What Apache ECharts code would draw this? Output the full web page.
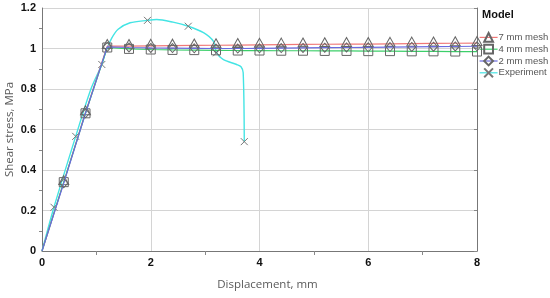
<!DOCTYPE html>
<html>
<head>
<meta charset="utf-8">
<script src="https://cdn.jsdelivr.net/npm/echarts@6/dist/echarts.min.js"></script>
<style>html,body{margin:0;padding:0;background:#fff}#c{width:550px;height:298px}</style>
</head>
<body>
<div id="c"></div>
<script>
const seriesNames = ['7 mm mesh', '4 mm mesh', '2 mm mesh', 'Experiment'];
const modelX = [0, 0.4, 0.8, 1.2, 1.6, 2.0, 2.4, 2.8, 3.2, 3.6, 4.0, 4.4, 4.8, 5.2, 5.6, 6.0, 6.4, 6.8, 7.2, 7.6, 8.0];
const mesh7 = [0, 0.34, 0.685, 1.012, 1.012, 1.013, 1.014, 1.015, 1.016, 1.017, 1.018, 1.019, 1.02, 1.021, 1.022, 1.022, 1.023, 1.024, 1.025, 1.026, 1.027];
const mesh4 = [0, 0.34, 0.68, 1.005, 0.998, 0.995, 0.993, 0.992, 0.991, 0.99, 0.99, 0.989, 0.989, 0.988, 0.988, 0.987, 0.987, 0.986, 0.986, 0.985, 0.985];
const mesh2 = [0, 0.335, 0.68, 1.008, 1.005, 1.003, 1.002, 1.001, 1.0, 1.0, 1.001, 1.002, 1.003, 1.004, 1.005, 1.006, 1.007, 1.008, 1.009, 1.01, 1.011];
const expX = [0, 0.22, 0.62, 0.9, 1.1, 1.18, 1.28, 1.4, 1.62, 1.94, 2.11, 2.41, 2.69, 2.97, 3.15, 3.21, 3.33, 3.58, 3.66, 3.70, 3.72];
const expY = [0, 0.216, 0.566, 0.80, 0.921, 0.99, 1.05, 1.095, 1.127, 1.139, 1.143, 1.130, 1.110, 1.078, 1.036, 0.979, 0.946, 0.921, 0.91, 0.88, 0.54];
const expMarkerX = [0.22, 0.62, 1.1, 1.94, 2.69, 3.21, 3.72];
const xTicks = [0, 2, 4, 6, 8];
const yTicks = [0, 0.2, 0.4, 0.6, 0.8, 1, 1.2];

const lineColors = ['#f07878', '#3ccf6a', '#6a6ae0', '#44e4e4'];
const symbols = ['triangle', 'rect', 'diamond', 'path://M0,0L10,10M10,0L0,10'];
const symbolSizes = [[10, 9], [9, 9], [8, 9], [7, 7]];

const pair = (xs, ys) => xs.map((x, i) => [x, ys[i]]);
const modelData = [mesh7, mesh4, mesh2].map(ys => pair(modelX, ys).map(p => p[0] === 0 ? {value: p, symbol: 'none'} : {value: p}));
const expData = pair(expX, expY).map(p => expMarkerX.indexOf(p[0]) >= 0 ? {value: p} : {value: p, symbol: 'none'});

const chart = echarts.init(document.getElementById('c'), null, {renderer: 'canvas'});
const tickLabel = {fontFamily: 'Liberation Sans, Arial', fontWeight: 'bold', fontSize: 11, color: '#111'};
const series = [0, 1, 2].map(i => ({
  name: seriesNames[i], type: 'line', data: modelData[i],
  symbol: symbols[i], symbolSize: symbolSizes[i], showAllSymbol: true,
  symbolOffset: i === 0 ? [0, -2] : [0, 0],
  itemStyle: {color: 'rgba(255,255,255,0)', borderColor: '#666', borderWidth: 1},
  lineStyle: {color: lineColors[i], width: 1.2}, z: 3 + i
}));
series.push({
  name: seriesNames[3], type: 'line', data: expData, smooth: 0.3,
  symbol: symbols[3], symbolSize: symbolSizes[3], showAllSymbol: true,
  itemStyle: {color: 'rgba(255,255,255,0)', borderColor: '#777', borderWidth: 1},
  lineStyle: {color: lineColors[3], width: 1.4}, z: 2
});
chart.setOption({
  animation: false,
  backgroundColor: '#fff',
  grid: {left: 42, right: 73, top: 8, bottom: 47, containLabel: false, outerBoundsMode: 'none'},
  title: {text: 'Model', left: 482, top: 9, padding: 0, textStyle: {fontFamily: 'Liberation Sans, Arial', fontWeight: 'bold', fontSize: 11, color: '#111'}},
  legend: {
    orient: 'vertical', left: 479, top: 32, padding: 0, itemGap: 1, itemWidth: 18, itemHeight: 11,
    data: seriesNames.map((n, i) => ({name: n, lineStyle: {color: lineColors[i], width: 1.2}})),
    textStyle: {fontFamily: 'Liberation Sans, Arial', fontSize: 9.5, color: '#555', padding: [0, 0, 0, -4]}
  },
  xAxis: {
    type: 'value', min: 0, max: 8, interval: 2,
    name: 'Displacement, mm', nameLocation: 'middle', nameGap: 28, nameMoveOverlap: false,
    nameTextStyle: {fontFamily: 'Open Sans', fontSize: 11.5, color: '#5a5a5a', padding: [0, 0, 0, 16]},
    axisLine: {lineStyle: {color: '#777'}},
    axisTick: {show: false},
    minorTick: {show: true, splitNumber: 2, length: 4, lineStyle: {color: '#888'}},
    axisLabel: Object.assign({margin: 6, formatter: v => xTicks.indexOf(v) >= 0 ? String(v) : ''}, tickLabel),
    splitLine: {show: true, lineStyle: {color: '#d4d4d4'}}
  },
  yAxis: [{
    type: 'value', min: 0, max: 1.2, interval: 0.2,
    name: 'Shear stress, MPa', nameLocation: 'middle', nameGap: 26, nameMoveOverlap: false,
    nameTextStyle: {fontFamily: 'Open Sans', fontSize: 11.5, color: '#5a5a5a'},
    axisLine: {show: true, lineStyle: {color: '#777'}},
    axisTick: {show: false},
    minorTick: {show: true, splitNumber: 2, length: 3, lineStyle: {color: '#888'}},
    axisLabel: Object.assign({margin: 6, formatter: v => { const t = yTicks.find(k => Math.abs(k - v) < 1e-9); return t === undefined ? '' : String(+t.toFixed(1)); }}, tickLabel),
    splitLine: {show: true, lineStyle: {color: '#d4d4d4'}}
  }, {
    type: 'value', min: 0, max: 1.2, interval: 0.2, position: 'right',
    axisLine: {show: true, lineStyle: {color: '#777'}},
    axisTick: {show: true, inside: true, length: 3, lineStyle: {color: '#888'}},
    minorTick: {show: false},
    axisLabel: {show: false}, splitLine: {show: false}
  }],
  series: series
});
</script>
</body>
</html>
